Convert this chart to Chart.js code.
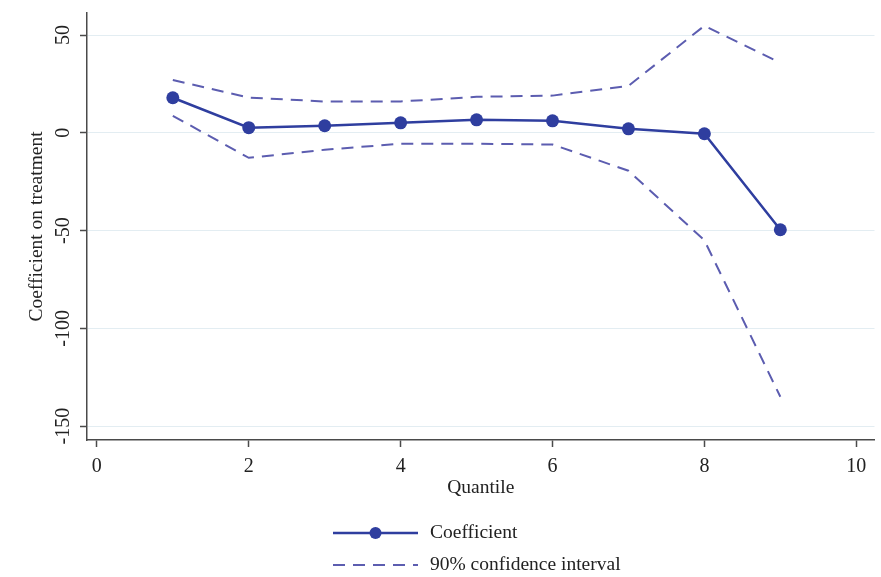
<!DOCTYPE html>
<html>
<head>
<meta charset="utf-8">
<script src="https://cdn.jsdelivr.net/npm/chart.js@4.4.1/dist/chart.umd.min.js"></script>
<style>
  html, body { margin: 0; padding: 0; background: #fff; }
  #wrap { width: 881px; height: 577px; }
</style>
</head>
<body>
<div id="wrap"><canvas id="chart" width="881" height="577"></canvas></div>
<script>
// values
const quantiles = [1, 2, 3, 4, 5, 6, 7, 8, 9];
const coefficient = [17.9, 2.6, 3.6, 5.1, 6.6, 6.1, 2.0, -0.5, -49.6];
const ciUpper = [27, 18, 16, 16, 18.4, 19, 24, 54.7, 35.8];
const ciLower = [8.7, -12.8, -8.7, -5.6, -5.6, -6, -19.4, -55, -135];
const xTicks = [0, 2, 4, 6, 8, 10];
const yTicks = [-150, -100, -50, 0, 50];

const serif = '"Liberation Serif", "Times New Roman", serif';
const navy = '#2f3e9f';
const dashColor = '#5c5db0';
const axisColor = '#4a4a4a';
const dash = [12, 8];

const toPoints = vals => quantiles.map((q, i) => ({ x: q, y: vals[i] }));

// y tick labels are rotated in the original, draw them by hand
const rotatedYTicks = {
  id: 'rotatedYTicks',
  afterDraw(chart) {
    const y = chart.scales.y;
    const ctx = chart.ctx;
    ctx.save();
    ctx.font = '20px ' + serif;
    ctx.fillStyle = '#222';
    ctx.textAlign = 'center';
    ctx.textBaseline = 'middle';
    yTicks.forEach(v => {
      ctx.save();
      ctx.translate(y.right - 23, y.getPixelForValue(v));
      ctx.rotate(-Math.PI / 2);
      ctx.fillText(String(v), 0, 0);
      ctx.restore();
    });
    ctx.restore();
  }
};

// two-row legend under the plot
const stataLegend = {
  id: 'stataLegend',
  afterDraw(chart) {
    const ctx = chart.ctx;
    const x0 = 333, x1 = 418, tx = 430;
    const rows = [533, 565];
    ctx.save();
    ctx.strokeStyle = navy;
    ctx.lineWidth = 2.5;
    ctx.beginPath();
    ctx.moveTo(x0, rows[0]);
    ctx.lineTo(x1, rows[0]);
    ctx.stroke();
    ctx.fillStyle = navy;
    ctx.beginPath();
    ctx.arc((x0 + x1) / 2, rows[0], 6, 0, Math.PI * 2);
    ctx.fill();

    ctx.strokeStyle = dashColor;
    ctx.lineWidth = 2;
    ctx.setLineDash(dash);
    ctx.beginPath();
    ctx.moveTo(x0, rows[1]);
    ctx.lineTo(x1, rows[1]);
    ctx.stroke();
    ctx.setLineDash([]);

    ctx.font = '19.5px ' + serif;
    ctx.fillStyle = '#222';
    ctx.textBaseline = 'middle';
    ctx.fillText('Coefficient', tx, rows[0]);
    ctx.fillText('90% confidence interval', tx, rows[1]);
    ctx.restore();
  }
};

const ctx = document.querySelector('#chart').getContext('2d');

new Chart(ctx, {
  type: 'line',
  data: {
    datasets: [
      {
        label: 'Coefficient',
        data: toPoints(coefficient),
        borderColor: navy,
        backgroundColor: navy,
        borderWidth: 2.5,
        pointRadius: 6.5,
        pointHoverRadius: 6.5,
        pointBorderWidth: 0
      },
      {
        label: '90% confidence interval',
        data: toPoints(ciUpper),
        borderColor: dashColor,
        borderWidth: 2,
        borderDash: dash,
        pointRadius: 0
      },
      {
        label: '90% confidence interval (lower)',
        data: toPoints(ciLower),
        borderColor: dashColor,
        borderWidth: 2,
        borderDash: dash,
        pointRadius: 0
      }
    ]
  },
  options: {
    responsive: false,
    animation: false,
    layout: { padding: { top: 13, right: 3, bottom: 75, left: 0 } },
    plugins: {
      legend: { display: false },
      tooltip: { enabled: false }
    },
    scales: {
      x: {
        type: 'linear',
        min: -0.13,
        max: 10.24,
        afterBuildTicks: scale => { scale.ticks = xTicks.map(v => ({ value: v })); },
        afterFit: scale => { scale.height = 62; },
        border: { display: true, color: axisColor, width: 1.5 },
        grid: { drawOnChartArea: false, drawTicks: true, tickLength: 7, tickColor: axisColor, tickWidth: 1.5 },
        ticks: { font: { family: serif, size: 20 }, color: '#222', padding: 8, maxRotation: 0 },
        title: { display: true, text: 'Quantile', font: { family: serif, size: 19.5 }, color: '#222', padding: { top: 0, bottom: 2 } }
      },
      y: {
        min: -157.1,
        max: 61.25,
        afterBuildTicks: scale => { scale.ticks = yTicks.map(v => ({ value: v })); },
        afterFit: scale => { scale.width = 87; },
        border: { display: true, color: axisColor, width: 1.5 },
        grid: { color: '#e3edf2', lineWidth: 1, drawTicks: true, tickLength: 7, tickColor: axisColor, tickWidth: 1.5 },
        ticks: { display: false },
        title: { display: true, text: 'Coefficient on treatment', font: { family: serif, size: 19.5 }, color: '#222', padding: { top: 25, bottom: 0 } }
      }
    }
  },
  plugins: [rotatedYTicks, stataLegend]
});
</script>
</body>
</html>
